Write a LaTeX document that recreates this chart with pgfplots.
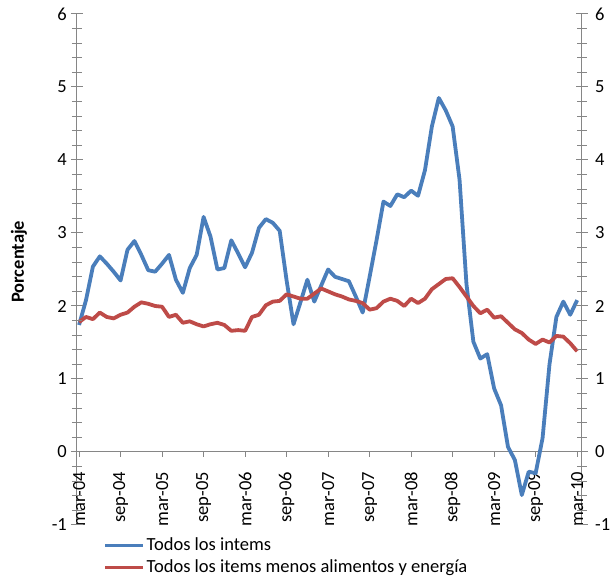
\documentclass[border=0pt]{standalone}
\usepackage{pgfplots}
\pgfplotsset{compat=1.18}
\usepackage{pgfplotstable}
\usepackage{fontspec}
\setmainfont{Carlito}
\definecolor{cblue}{HTML}{4A7EBB}
\definecolor{cred}{HTML}{BE4B48}
\definecolor{axgray}{HTML}{868686}

\pgfplotstableread{
m b r
0 1.74 1.78
1 2.08 1.85
2 2.54 1.82
3 2.68 1.91
4 2.58 1.85
5 2.47 1.83
6 2.35 1.88
7 2.77 1.91
8 2.89 1.99
9 2.70 2.05
10 2.49 2.03
11 2.47 2.00
12 2.58 1.99
13 2.70 1.85
14 2.36 1.88
15 2.18 1.77
16 2.52 1.79
17 2.70 1.75
18 3.22 1.72
19 2.95 1.75
20 2.50 1.77
21 2.52 1.74
22 2.90 1.66
23 2.72 1.67
24 2.53 1.66
25 2.73 1.85
26 3.07 1.88
27 3.19 2.01
28 3.14 2.06
29 3.03 2.07
30 2.35 2.16
31 1.75 2.13
32 2.05 2.10
33 2.36 2.10
34 2.06 2.17
35 2.28 2.24
36 2.50 2.20
37 2.40 2.16
38 2.37 2.13
39 2.34 2.09
40 2.13 2.07
41 1.91 2.04
42 2.40 1.95
43 2.90 1.97
44 3.43 2.06
45 3.37 2.10
46 3.53 2.07
47 3.49 2.00
48 3.58 2.10
49 3.51 2.04
50 3.86 2.10
51 4.46 2.23
52 4.85 2.30
53 4.68 2.37
54 4.46 2.38
55 3.73 2.26
56 2.30 2.13
57 1.51 2.00
58 1.28 1.90
59 1.34 1.95
60 0.87 1.84
61 0.64 1.86
62 0.07 1.77
63 -0.11 1.68
64 -0.59 1.63
65 -0.27 1.54
66 -0.29 1.48
67 0.19 1.54
68 1.20 1.50
69 1.85 1.59
70 2.06 1.58
71 1.88 1.49
72 2.08 1.38
}\datatable

\begin{document}
\fontsize{18.5}{22}\selectfont
\begin{tikzpicture}
\path[use as bounding box] (-77pt,-56pt) rectangle (534pt,525pt);
\begin{axis}[
  at={(0pt,0pt)}, anchor=south west,
  scale only axis, width=505pt, height=511pt,
  xmin=-0.3, xmax=72.7, ymin=-1, ymax=6,
  axis y line=box, axis x line*=middle,
  x axis line style={-},
  axis line style={axgray, line width=1pt},
  every tick/.style={axgray, line width=1pt},
  xtick align=outside,
  major tick length=5pt,
  ytick={-1,0,...,6},
  ytick style={draw=none},
  xtick={0,6,...,72},
  xticklabels={mar-04,sep-04,mar-05,sep-05,mar-06,sep-06,mar-07,sep-07,mar-08,sep-08,mar-09,sep-09,mar-10},
  xticklabel style={rotate=90, anchor=east, inner sep=0pt},
  xticklabel shift=15pt,
  yticklabel style={inner sep=0pt},
  yticklabel shift=10pt,
  /pgf/number format/assume math mode=true,
  ylabel={\bfseries Porcentaje},
  ylabel style={at={(axis description cs:-0.115,0.515)}, anchor=center},
  legend style={at={(0.052,-0.02)}, anchor=north west, draw=none, fill=none,
    inner sep=0pt, row sep=2.5pt, font=\fontsize{18.5}{22}\selectfont},
  legend cell align=left,
  legend image code/.code={\draw[#1, line width=3.2pt] (0pt,0pt) -- (38pt,0pt);},
  clip=false,
]
\addplot[cblue, line width=3.8pt, line join=round] table[x=m, y=b] {\datatable};
\addlegendentry{Todos los intems}
\addplot[cred, line width=3.8pt, line join=round] table[x=m, y=r] {\datatable};
\addlegendentry{Todos los items menos alimentos y energía}
\end{axis}
\begin{axis}[
  at={(0pt,0pt)}, anchor=south west,
  scale only axis, width=505pt, height=511pt,
  xmin=-0.3, xmax=72.7, ymin=-1, ymax=6,
  axis y line=box, hide x axis,
  y axis line style={draw=none},
  every tick/.style={axgray, line width=1pt},
  tick align=center,
  major tick length=12pt, minor tick length=10pt,
  ytick={-1,0,...,6}, minor y tick num=4,
  yticklabel pos=right,
  yticklabel style={inner sep=0pt},
  yticklabel shift=7pt,
  /pgf/number format/assume math mode=true,
]
\end{axis}
\end{tikzpicture}
\end{document}
